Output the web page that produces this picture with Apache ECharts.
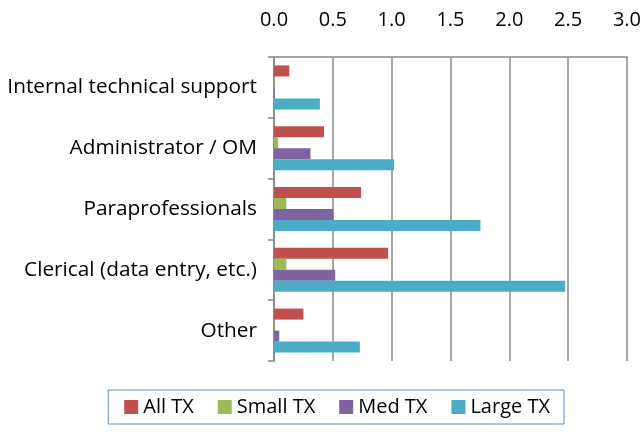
<!DOCTYPE html>
<html>
<head>
<meta charset="utf-8">
<script src="https://cdn.jsdelivr.net/npm/echarts@6/dist/echarts.min.js"></script>
<style>
  html, body { margin: 0; padding: 0; background: #fff; }
  #chart { width: 644px; height: 436px; }
</style>
</head>
<body>
<div id="chart"></div>
<script>
var categories = ['Internal technical support', 'Administrator / OM', 'Paraprofessionals', 'Clerical (data entry, etc.)', 'Other'];
var seriesNames = ['All TX', 'Small TX', 'Med TX', 'Large TX'];
var allTx = [0.13, 0.425, 0.74, 0.97, 0.25];
var smallTx = [0.005, 0.035, 0.105, 0.105, 0.005];
var medTx = [0.005, 0.31, 0.505, 0.52, 0.045];
var largeTx = [0.39, 1.02, 1.755, 2.475, 0.73];
var colors = ['#C0504D', '#9BBB59', '#8064A2', '#4BACC6'];

var font = 'Open Sans';
var myChart = echarts.init(document.getElementById('chart'));

function bar(name, data, color) {
    return {
        name: name,
        type: 'bar',
        data: data,
        barWidth: 11,
        barGap: '0%',
        itemStyle: { color: color }
    };
}

var option = {
    animation: false,
    textStyle: { fontFamily: font },
    grid: { left: 274, top: 57, right: 15, bottom: 75 },
    legend: {
        data: seriesNames,
        right: 80,
        top: 390,
        icon: 'rect',
        itemWidth: 14,
        itemHeight: 14,
        itemGap: 24,
        padding: [7, 14, 7, 16],
        borderColor: '#5b87c5',
        borderWidth: 1,
        textStyle: { fontFamily: font, fontSize: 20, color: '#000' }
    },
    xAxis: {
        type: 'value',
        position: 'top',
        min: 0,
        max: 3,
        interval: 0.5,
        axisLine: { show: true, lineStyle: { color: '#868686', width: 1.5 } },
        axisTick: { show: false },
        splitLine: { show: true, lineStyle: { color: '#8a8a8a', width: 1.5 } },
        axisLabel: {
            fontFamily: font,
            fontSize: 20,
            color: '#000',
            margin: 27,
            formatter: function (v) { return v.toFixed(1); }
        }
    },
    yAxis: {
        type: 'category',
        inverse: true,
        data: categories,
        axisLine: { show: true, lineStyle: { color: '#868686', width: 1.5 } },
        axisTick: { show: true, length: 6, lineStyle: { color: '#868686', width: 1.5 } },
        axisLabel: { fontFamily: font, fontSize: 20.8, color: '#000', margin: 17 }
    },
    series: [
        bar(seriesNames[0], allTx, colors[0]),
        bar(seriesNames[1], smallTx, colors[1]),
        bar(seriesNames[2], medTx, colors[2]),
        bar(seriesNames[3], largeTx, colors[3])
    ]
};
myChart.setOption(option);
</script>
</body>
</html>
